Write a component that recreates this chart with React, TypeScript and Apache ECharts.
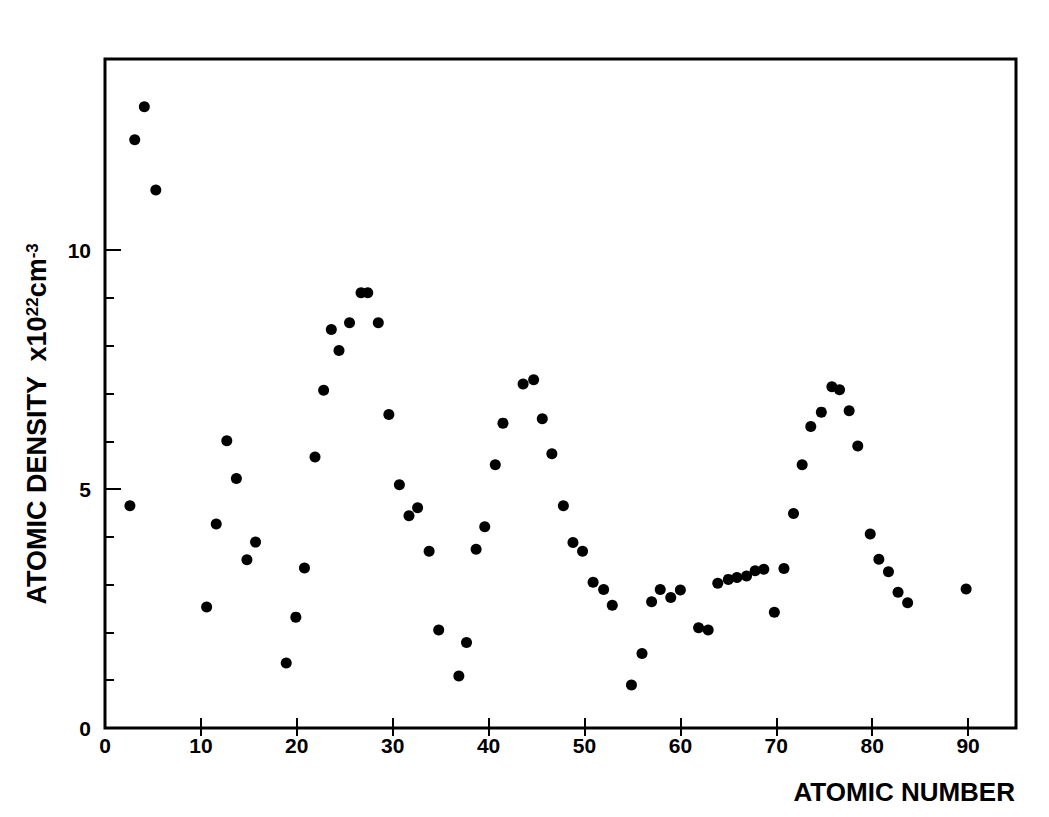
import React, { useEffect, useRef } from "react";
import * as echarts from "echarts";

// Atomic number positions (as plotted) and atomic density (x10^22 cm^-3)
const atomicNumber = [
  2.6, 3.1, 4.1, 5.3, 10.6, 11.6, 12.7, 13.7, 14.8, 15.7,
  18.9, 19.9, 20.8, 21.9, 22.8, 23.6, 24.4, 25.5, 26.7, 27.4,
  28.5, 29.6, 30.7, 31.7, 32.6, 33.8, 34.8, 36.9, 37.7, 38.7,
  39.6, 40.7, 41.5, 43.6, 44.7, 45.6, 46.6, 47.8, 48.8, 49.8,
  50.9, 52.0, 52.9, 54.9, 56.0, 57.0, 57.9, 59.0, 60.0, 61.9,
  62.9, 63.9, 65.0, 65.9, 66.9, 67.8, 68.7, 69.8, 70.8, 71.8,
  72.7, 73.6, 74.7, 75.8, 76.6, 77.6, 78.5, 79.8, 80.7, 81.7,
  82.7, 83.7, 89.8,
];
const atomicDensity = [
  4.65, 12.31, 13.0, 11.26, 2.53, 4.27, 6.01, 5.22, 3.52, 3.89,
  1.36, 2.32, 3.35, 5.67, 7.07, 8.34, 7.9, 8.48, 9.11, 9.11,
  8.48, 6.56, 5.09, 4.44, 4.61, 3.7, 2.05, 1.09, 1.79, 3.74,
  4.21, 5.51, 6.38, 7.2, 7.29, 6.47, 5.74, 4.65, 3.88, 3.7,
  3.05, 2.9, 2.57, 0.9, 1.56, 2.64, 2.9, 2.73, 2.89, 2.1,
  2.05, 3.03, 3.11, 3.15, 3.18, 3.29, 3.32, 2.42, 3.34, 4.49,
  5.51, 6.31, 6.61, 7.14, 7.08, 6.64, 5.9, 4.06, 3.53, 3.27,
  2.84, 2.62, 2.91,
];
const xTickLabels = [0, 10, 20, 30, 40, 50, 60, 70, 80, 90];
const xTicks = [10, 20, 30, 40, 50, 60, 70, 80, 90];
const yTickLabels = [0, 5, 10];
const yMinorTicks = [1, 2, 3, 4, 6, 7, 8, 9];
const yMajorTicks = [5, 10];

const FONT = "Liberation Sans, Arial, Helvetica, sans-serif";

export default function App() {
  const ref = useRef<HTMLDivElement>(null);
  useEffect(() => {
    if (!ref.current) return;
    const chart = echarts.init(ref.current, undefined, { renderer: "svg" });
    const labelStyle = {
      color: "#000",
      fontWeight: "bold" as const,
      fontSize: 21,
      fontFamily: FONT,
    };
    const tickLine = { color: "#000", width: 2 };
    chart.setOption({
      animation: false,
      backgroundColor: "#fff",
      grid: {
        left: 105,
        right: 33,
        top: 59,
        bottom: 89,
        show: true,
        borderColor: "#000",
        borderWidth: 3,
        backgroundColor: "transparent",
      },
      xAxis: [
        {
          type: "value",
          min: 0,
          max: 95,
          interval: 10,
          position: "bottom",
          axisLine: { show: false },
          axisTick: { inside: true, length: 10, lineStyle: tickLine, customValues: xTicks },
          axisLabel: {
            ...labelStyle,
            margin: 7,
            customValues: xTickLabels,
            formatter: (v: number) => String(v),
          },
          splitLine: { show: false },
        },
        {
          type: "value",
          min: 0,
          max: 95,
          interval: 10,
          position: "top",
          axisLine: { show: false },
          axisTick: { inside: true, length: 8, lineStyle: tickLine, customValues: xTicks },
          axisLabel: { show: false },
          splitLine: { show: false },
        },
      ],
      yAxis: [
        {
          type: "value",
          min: 0,
          max: 14,
          interval: 1,
          position: "left",
          axisLine: { show: false },
          axisTick: { inside: true, length: 9, lineStyle: tickLine, customValues: yMinorTicks },
          axisLabel: {
            ...labelStyle,
            margin: 14,
            customValues: yTickLabels,
            formatter: (v: number) => String(v),
          },
          splitLine: { show: false },
        },
        {
          type: "value",
          min: 0,
          max: 14,
          interval: 5,
          position: "left",
          axisLine: { show: false },
          axisTick: { inside: true, length: 16, lineStyle: tickLine, customValues: yMajorTicks },
          axisLabel: { show: false },
          splitLine: { show: false },
        },
      ],
      series: [
        {
          type: "scatter",
          xAxisIndex: 0,
          yAxisIndex: 0,
          symbol: "circle",
          symbolSize: 11,
          itemStyle: { color: "#000", opacity: 1 },
          data: atomicNumber.map((x, i) => [x, atomicDensity[i]]),
        },
      ],
      graphic: [
        {
          type: "text",
          x: 1015,
          y: 792,
          style: {
            text: "ATOMIC NUMBER",
            fill: "#000",
            font: `bold 26px ${FONT}`,
            textAlign: "right",
            textVerticalAlign: "middle",
          },
        },
        {
          type: "text",
          x: 37,
          y: 424,
          rotation: Math.PI / 2,
          style: {
            text: "{b|ATOMIC DENSITY  x10}{s|22}{b|cm}{s|-3}",
            fill: "#000",
            textAlign: "center",
            textVerticalAlign: "middle",
            rich: {
              b: { fontSize: 27, fontWeight: "bold", fontFamily: FONT, fill: "#000", verticalAlign: "bottom" },
              s: { fontSize: 17, fontWeight: "bold", fontFamily: FONT, fill: "#000", verticalAlign: "top" },
            },
          },
        },
      ],
    });
    return () => chart.dispose();
  }, []);
  return (
    <div
      ref={ref}
      style={{ position: "fixed", left: 0, top: 0, width: 1049, height: 817 }}
    />
  );
}
